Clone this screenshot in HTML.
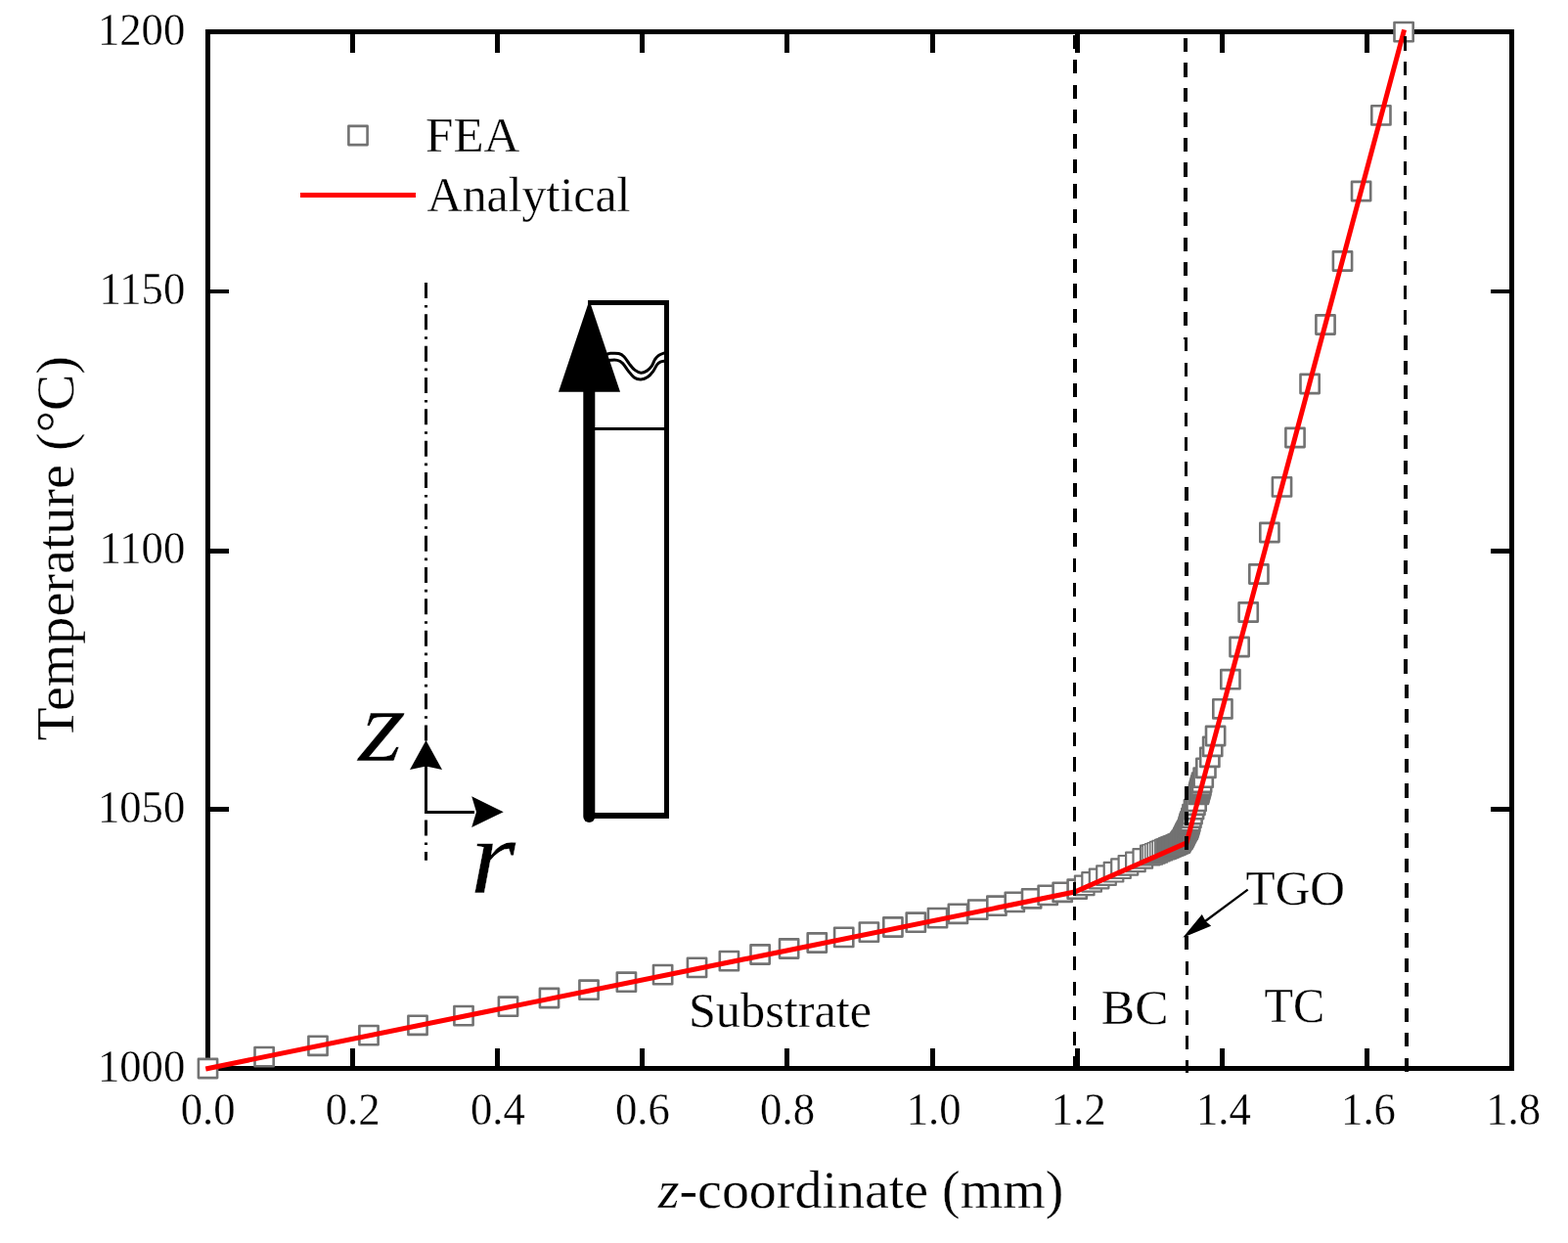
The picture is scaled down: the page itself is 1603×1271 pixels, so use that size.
<!DOCTYPE html>
<html lang="en"><head><meta charset="utf-8"><title>Temperature vs z-coordinate</title>
<style>
html,body{margin:0;padding:0;background:#fff;}
body{width:1603px;height:1271px;overflow:hidden;}
svg{display:block;}
text{font-family:"Liberation Serif","Times New Roman",Times,serif;fill:#000;stroke:#fff;stroke-width:0.3px;paint-order:fill stroke;}
</style></head><body>
<svg width="1603" height="1271" viewBox="0 0 1603 1271">
<rect x="0" y="0" width="1603" height="1271" fill="#fff"/>
<g shape-rendering="crispEdges" fill="#000">
<rect x="210" y="30" width="1338" height="5"/>
<rect x="210" y="1090" width="1338" height="5"/>
<rect x="210" y="30" width="5" height="1065"/>
<rect x="1543" y="30" width="5" height="1065"/>
<rect x="358" y="1072" width="5" height="20"/>
<rect x="358" y="33" width="5" height="21"/>
<rect x="506" y="1072" width="5" height="20"/>
<rect x="506" y="33" width="5" height="21"/>
<rect x="654" y="1072" width="5" height="20"/>
<rect x="654" y="33" width="5" height="21"/>
<rect x="802" y="1072" width="5" height="20"/>
<rect x="802" y="33" width="5" height="21"/>
<rect x="951" y="1072" width="5" height="20"/>
<rect x="951" y="33" width="5" height="21"/>
<rect x="1099" y="1072" width="5" height="20"/>
<rect x="1099" y="33" width="5" height="21"/>
<rect x="1247" y="1072" width="5" height="20"/>
<rect x="1247" y="33" width="5" height="21"/>
<rect x="1395" y="1072" width="5" height="20"/>
<rect x="1395" y="33" width="5" height="21"/>
<rect x="213" y="825" width="21" height="5"/>
<rect x="1524" y="825" width="21" height="5"/>
<rect x="213" y="561" width="21" height="5"/>
<rect x="1524" y="561" width="21" height="5"/>
<rect x="213" y="296" width="21" height="4"/>
<rect x="1524" y="296" width="21" height="4"/>
</g>
<g fill="#fff" stroke="#727272" stroke-width="2.6" stroke-linejoin="round">
<rect x="202.9" y="1082.9" width="19.2" height="19.2"/>
<rect x="260.5" y="1071.0" width="19.2" height="19.2"/>
<rect x="315.4" y="1059.7" width="19.2" height="19.2"/>
<rect x="367.4" y="1049.0" width="19.2" height="19.2"/>
<rect x="417.4" y="1038.7" width="19.2" height="19.2"/>
<rect x="464.4" y="1029.0" width="19.2" height="19.2"/>
<rect x="509.9" y="1019.6" width="19.2" height="19.2"/>
<rect x="551.9" y="1010.9" width="19.2" height="19.2"/>
<rect x="592.4" y="1002.6" width="19.2" height="19.2"/>
<rect x="630.8" y="994.6" width="19.2" height="19.2"/>
<rect x="668.0" y="987.0" width="19.2" height="19.2"/>
<rect x="702.9" y="979.8" width="19.2" height="19.2"/>
<rect x="735.8" y="973.0" width="19.2" height="19.2"/>
<rect x="767.5" y="966.4" width="19.2" height="19.2"/>
<rect x="797.0" y="960.4" width="19.2" height="19.2"/>
<rect x="825.7" y="954.4" width="19.2" height="19.2"/>
<rect x="853.1" y="948.8" width="19.2" height="19.2"/>
<rect x="878.8" y="943.5" width="19.2" height="19.2"/>
<rect x="903.3" y="938.4" width="19.2" height="19.2"/>
<rect x="926.7" y="933.6" width="19.2" height="19.2"/>
<rect x="948.9" y="929.0" width="19.2" height="19.2"/>
<rect x="969.8" y="924.7" width="19.2" height="19.2"/>
<rect x="990.1" y="920.5" width="19.2" height="19.2"/>
<rect x="1009.3" y="916.6" width="19.2" height="19.2"/>
<rect x="1027.7" y="912.8" width="19.2" height="19.2"/>
<rect x="1045.0" y="909.2" width="19.2" height="19.2"/>
<rect x="1061.6" y="905.8" width="19.2" height="19.2"/>
<rect x="1076.6" y="902.7" width="19.2" height="19.2"/>
<rect x="1091.6" y="899.6" width="19.2" height="19.2"/>
<rect x="1098.9" y="895.6" width="19.6" height="19.6" stroke-width="2.2"/>
<rect x="1106.3" y="892.1" width="19.6" height="19.6" stroke-width="2.2"/>
<rect x="1113.8" y="888.7" width="19.6" height="19.6" stroke-width="2.2"/>
<rect x="1121.2" y="885.3" width="19.6" height="19.6" stroke-width="2.2"/>
<rect x="1128.7" y="881.9" width="19.6" height="19.6" stroke-width="2.2"/>
<rect x="1136.2" y="878.4" width="19.6" height="19.6" stroke-width="2.2"/>
<rect x="1143.6" y="875.0" width="19.6" height="19.6" stroke-width="2.2"/>
<rect x="1151.1" y="871.6" width="19.6" height="19.6" stroke-width="2.2"/>
<rect x="1158.5" y="868.1" width="19.6" height="19.6" stroke-width="2.2"/>
<rect x="1166.0" y="864.7" width="19.6" height="19.6" stroke-width="2.2"/>
<rect x="1168.2" y="863.8" width="20.2" height="20.2" stroke-width="1.6"/>
<rect x="1170.7" y="862.7" width="20.2" height="20.2" stroke-width="1.6"/>
<rect x="1173.2" y="861.7" width="20.2" height="20.2" stroke-width="1.6"/>
<rect x="1175.7" y="860.6" width="20.2" height="20.2" stroke-width="1.6"/>
<rect x="1178.2" y="859.6" width="20.2" height="20.2" stroke-width="1.6"/>
<rect x="1180.7" y="858.5" width="20.2" height="20.2" stroke-width="1.6"/>
<rect x="1182.5" y="858.5" width="19.2" height="19.2"/>
<rect x="1183.8" y="858.0" width="19.2" height="19.2"/>
<rect x="1185.1" y="857.4" width="19.2" height="19.2"/>
<rect x="1186.4" y="856.9" width="19.2" height="19.2"/>
<rect x="1187.7" y="856.3" width="19.2" height="19.2"/>
<rect x="1189.0" y="855.8" width="19.2" height="19.2"/>
<rect x="1190.3" y="855.2" width="19.2" height="19.2"/>
<rect x="1191.6" y="854.7" width="19.2" height="19.2"/>
<rect x="1192.9" y="854.2" width="19.2" height="19.2"/>
<rect x="1194.2" y="853.6" width="19.2" height="19.2"/>
<rect x="1195.5" y="853.1" width="19.2" height="19.2"/>
<rect x="1196.8" y="852.5" width="19.2" height="19.2"/>
<rect x="1197.4" y="851.3" width="19.2" height="19.2"/>
<rect x="1198.4" y="849.9" width="19.2" height="19.2"/>
<rect x="1199.5" y="848.5" width="19.2" height="19.2"/>
<rect x="1200.3" y="847.1" width="19.2" height="19.2"/>
<rect x="1200.9" y="845.7" width="19.2" height="19.2"/>
<rect x="1201.6" y="844.3" width="19.2" height="19.2"/>
<rect x="1202.3" y="842.9" width="19.2" height="19.2"/>
<rect x="1203.0" y="841.5" width="19.2" height="19.2"/>
<rect x="1203.8" y="840.1" width="19.2" height="19.2"/>
<rect x="1204.6" y="838.7" width="19.2" height="19.2"/>
<rect x="1205.2" y="837.3" width="19.2" height="19.2"/>
<rect x="1205.6" y="835.9" width="19.2" height="19.2"/>
<rect x="1206.0" y="834.5" width="19.2" height="19.2"/>
<rect x="1206.4" y="833.1" width="19.2" height="19.2"/>
<rect x="1206.8" y="831.7" width="19.2" height="19.2"/>
<rect x="1207.2" y="830.2" width="19.2" height="19.2"/>
<rect x="1208.3" y="826.7" width="19.2" height="19.2"/>
<rect x="1209.4" y="823.1" width="19.2" height="19.2"/>
<rect x="1210.9" y="818.1" width="19.2" height="19.2"/>
<rect x="1212.3" y="813.7" width="19.2" height="19.2"/>
<rect x="1213.5" y="809.8" width="19.2" height="19.2"/>
<rect x="1215.8" y="802.7" width="19.2" height="19.2"/>
<rect x="1216.3" y="801.0" width="19.2" height="19.2"/>
<rect x="1216.7" y="799.4" width="19.2" height="19.2"/>
<rect x="1217.1" y="797.8" width="19.2" height="19.2"/>
<rect x="1217.6" y="796.2" width="19.2" height="19.2"/>
<rect x="1217.9" y="794.7" width="19.2" height="19.2"/>
<rect x="1218.3" y="793.3" width="19.2" height="19.2"/>
<rect x="1219.0" y="790.6" width="19.2" height="19.2"/>
<rect x="1220.6" y="785.6" width="19.2" height="19.2"/>
<rect x="1223.3" y="775.7" width="19.2" height="19.2"/>
<rect x="1227.2" y="764.7" width="19.2" height="19.2"/>
<rect x="1230.1" y="753.7" width="19.2" height="19.2"/>
<rect x="1233.0" y="742.9" width="19.2" height="19.2"/>
<rect x="1240.3" y="715.2" width="19.2" height="19.2"/>
<rect x="1248.3" y="685.1" width="19.2" height="19.2"/>
<rect x="1257.5" y="651.9" width="19.2" height="19.2"/>
<rect x="1266.6" y="616.4" width="19.2" height="19.2"/>
<rect x="1277.3" y="577.4" width="19.2" height="19.2"/>
<rect x="1288.3" y="534.9" width="19.2" height="19.2"/>
<rect x="1300.9" y="488.3" width="19.2" height="19.2"/>
<rect x="1314.4" y="437.9" width="19.2" height="19.2"/>
<rect x="1329.5" y="382.9" width="19.2" height="19.2"/>
<rect x="1345.4" y="322.4" width="19.2" height="19.2"/>
<rect x="1362.9" y="257.4" width="19.2" height="19.2"/>
<rect x="1382.0" y="185.9" width="19.2" height="19.2"/>
<rect x="1402.3" y="108.3" width="19.2" height="19.2"/>
<rect x="1425.5" y="23.0" width="19.2" height="19.2"/>
</g>
<polyline points="210.3,1092.95 1098.7,912.0 1213,861.9 1435.6,30.3" fill="none" stroke="#ff0000" stroke-width="5" stroke-linejoin="miter" stroke-linecap="butt"/>
<g shape-rendering="crispEdges" stroke="#000" fill="none" stroke-dasharray="14.2 11.27">
<line x1="1099" y1="35.6" x2="1099" y2="565" stroke-width="4"/>
<line x1="1098.5" y1="570.6" x2="1098.5" y2="1092" stroke-width="3"/>
<line x1="1212" y1="39" x2="1212" y2="347" stroke-width="4"/>
<line x1="1212.5" y1="345.1" x2="1212.5" y2="500" stroke-width="3"/>
<line x1="1213" y1="498.1" x2="1213" y2="971" stroke-width="4" stroke-dasharray="14 11.5"/>
<line x1="1213.5" y1="982.5" x2="1213.5" y2="1097" stroke-width="3"/>
<line x1="1436.5" y1="37.3" x2="1436.5" y2="347" stroke-width="3"/>
<line x1="1437" y1="343.3" x2="1437" y2="700" stroke-width="4"/>
<line x1="1438" y1="699.6" x2="1438" y2="1096.5" stroke-width="4"/>
</g>
<text transform="translate(212.60 1150.30) scale(0.9550 1.0000)" font-size="46.8px" text-anchor="middle">0.0</text>
<text transform="translate(360.71 1150.30) scale(0.9550 1.0000)" font-size="46.8px" text-anchor="middle">0.2</text>
<text transform="translate(508.82 1150.30) scale(0.9550 1.0000)" font-size="46.8px" text-anchor="middle">0.4</text>
<text transform="translate(656.93 1150.30) scale(0.9550 1.0000)" font-size="46.8px" text-anchor="middle">0.6</text>
<text transform="translate(805.04 1150.30) scale(0.9550 1.0000)" font-size="46.8px" text-anchor="middle">0.8</text>
<text transform="translate(954.66 1150.30) scale(0.9550 1.0000)" font-size="46.8px" text-anchor="middle">1.0</text>
<text transform="translate(1102.77 1150.30) scale(0.9550 1.0000)" font-size="46.8px" text-anchor="middle">1.2</text>
<text transform="translate(1250.88 1150.30) scale(0.9550 1.0000)" font-size="46.8px" text-anchor="middle">1.4</text>
<text transform="translate(1398.99 1150.30) scale(0.9550 1.0000)" font-size="46.8px" text-anchor="middle">1.6</text>
<text transform="translate(1547.10 1150.30) scale(0.9550 1.0000)" font-size="46.8px" text-anchor="middle">1.8</text>
<text transform="translate(189.30 1105.70) scale(0.9550 1.0000)" font-size="46.8px" text-anchor="end">1000</text>
<text transform="translate(189.30 840.70) scale(0.9550 1.0000)" font-size="46.8px" text-anchor="end">1050</text>
<text transform="translate(189.30 575.70) scale(0.9550 1.0000)" font-size="46.8px" text-anchor="end">1100</text>
<text transform="translate(189.30 310.70) scale(0.9550 1.0000)" font-size="46.8px" text-anchor="end">1150</text>
<text transform="translate(189.30 45.70) scale(0.9550 1.0000)" font-size="46.8px" text-anchor="end">1200</text>
<text transform="translate(880.00 1235.20) scale(1.0170 1.0000)" font-size="55px" text-anchor="middle"><tspan font-style="italic">z</tspan>-coordinate (mm)</text>
<text transform="translate(75.20 560.70) rotate(-90) scale(1.0190 1.0000)" font-size="55px" text-anchor="middle">Temperature (°C)</text>
<g fill="#fff" stroke="#727272" stroke-width="2.6" stroke-linejoin="round"><rect x="356.4" y="128.9" width="19.2" height="19.2"/></g>
<text transform="translate(435.10 155.00)" font-size="51px" text-anchor="start">FEA</text>
<rect x="307" y="197" width="118" height="5" fill="#ff0000" shape-rendering="crispEdges"/>
<text transform="translate(436.60 216.00) scale(0.9786 1.0000)" font-size="51px" text-anchor="start">Analytical</text>
<text transform="translate(703.90 1049.60) scale(1.0060 1.0000)" font-size="50px" text-anchor="start">Substrate</text>
<text transform="translate(1125.80 1046.70) scale(1.0300 1.0000)" font-size="50px" text-anchor="start">BC</text>
<text transform="translate(1292.50 1045.00) scale(0.9660 1.0000)" font-size="50px" text-anchor="start">TC</text>
<text transform="translate(1273.50 925.00) scale(0.9880 1.0000)" font-size="50px" text-anchor="start">TGO</text>
<line x1="1275.7" y1="909.6" x2="1228" y2="945.0" stroke="#000" stroke-width="2.3"/>
<polygon points="1209.2,958.8 1228.8,935.0 1232.6,942.0 1238.2,946.8" fill="#000"/>
<line x1="435.5" y1="289" x2="435.5" y2="879.7" stroke="#000" stroke-width="3" stroke-dasharray="16 6.9 2.6 6.83"/>
<path d="M435.5 785 V830.3 H485" fill="none" stroke="#000" stroke-width="3" shape-rendering="crispEdges"/>
<polygon points="435.5,757 452,787 435.5,783.5 419,787" fill="#000"/>
<polygon points="514.7,830.3 482.2,846 487,830.3 482.2,814.3" fill="#000"/>
<text transform="translate(366.00 778.00) skewX(-4.5) scale(1.0900 1.0000)" font-size="106.5px" text-anchor="start" font-style="italic">z</text>
<text transform="translate(480.50 913.00) scale(1.0900 1.0000)" font-size="110px" text-anchor="start" font-style="italic">r</text>
<g shape-rendering="crispEdges" fill="#000">
<rect x="601" y="307" width="83" height="5"/>
<rect x="679" y="307" width="5" height="530"/>
<rect x="601" y="831" width="83" height="6"/>
<rect x="608" y="437" width="72" height="3"/>
</g>
<path d="M608.0 364.5 C610.0 364.1 617.5 362.8 620.2 362.3 C622.9 361.8 621.9 361.4 624.0 361.3 C626.1 361.2 630.3 360.9 632.6 361.5 C634.9 362.1 636.2 362.9 638.0 364.7 C639.8 366.5 641.7 370.0 643.5 372.3 C645.3 374.6 647.0 376.9 649.0 378.4 C651.0 379.9 653.1 381.1 655.2 381.2 C657.3 381.3 659.6 380.2 661.4 379.1 C663.2 378.0 664.8 376.2 666.2 374.3 C667.6 372.4 668.4 369.3 669.6 367.5 C670.9 365.7 672.1 364.4 673.7 363.3 C675.4 362.2 678.1 361.4 679.5 360.9 C680.9 360.4 681.6 360.6 682.0 360.5" fill="none" stroke="#000" stroke-width="3"/>
<path d="M608.0 371.0 C610.0 370.7 617.5 369.4 620.2 369.0 C622.9 368.6 622.2 368.4 624.0 368.3 C625.8 368.2 629.1 367.8 631.2 368.4 C633.3 368.9 634.9 369.8 636.7 371.6 C638.5 373.4 640.3 376.7 642.2 379.1 C644.1 381.5 646.1 384.5 648.3 386.0 C650.5 387.5 652.9 388.1 655.2 388.0 C657.5 387.9 660.0 387.0 662.1 385.6 C664.2 384.2 666.0 381.9 667.6 379.8 C669.2 377.7 670.5 374.5 671.7 372.9 C673.0 371.3 673.8 370.8 675.1 370.2 C676.4 369.6 678.4 369.4 679.5 369.2 C680.6 369.0 681.6 369.0 682.0 369.0" fill="none" stroke="#000" stroke-width="3"/>
<line x1="602.3" y1="835" x2="602.3" y2="395" stroke="#000" stroke-width="12" stroke-linecap="round"/>
<polygon points="602.5,307 634,400.8 571,400.8" fill="#000"/>
</svg>
</body></html>
